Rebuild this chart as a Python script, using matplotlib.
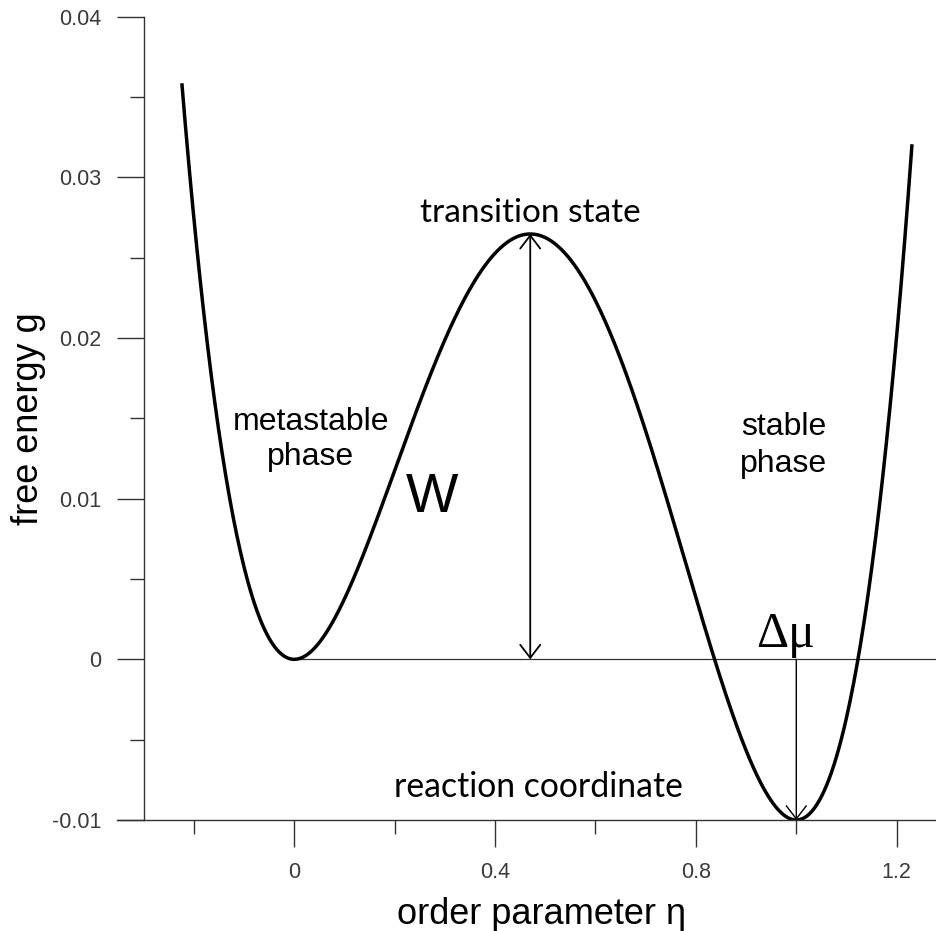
import numpy as np
import matplotlib
matplotlib.use("Agg")
import matplotlib.pyplot as plt
from matplotlib.ticker import FixedLocator

# Landau-type free energy of a first-order transition:
# g(eta) = a * eta^2 (1 - eta)^2 - dmu * (3 eta^2 - 2 eta^3)
barrier_coeff = 0.5        # a
delta_mu = 0.01            # driving force (depth of the stable well)
eta_start, eta_end = -0.224, 1.2305

x_major = [0, 0.4, 0.8, 1.2]
x_major_labels = ["0", "0.4", "0.8", "1.2"]
x_minor = [-0.2, 0.2, 0.6, 1.0]
y_major = [-0.01, 0.0, 0.01, 0.02, 0.03, 0.04]
y_major_labels = ["-0.01", "0", "0.01", "0.02", "0.03", "0.04"]
y_minor = [-0.005, 0.005, 0.015, 0.025, 0.035]


def free_energy(eta):
    return barrier_coeff * eta**2 * (1 - eta)**2 - delta_mu * (3 * eta**2 - 2 * eta**3)


eta = np.linspace(eta_start, eta_end, 600)
g = free_energy(eta)
eta_ts = 0.5 - 1.5 * delta_mu / barrier_coeff   # transition state
g_ts = free_energy(eta_ts)

W, H = 937, 931
fig = plt.figure(figsize=(W / 100, H / 100), dpi=100)
ax = fig.add_axes([117 / W, 111 / H, 820 / W, (914.3 - 111) / H])
ax.set_xlim(-0.3532, 1.2803)
ax.set_ylim(-0.01, 0.04)

axis_col = "#333333"
for side in ("top", "right"):
    ax.spines[side].set_visible(False)
ax.spines["left"].set_position(("data", -0.3))
for side in ("left", "bottom"):
    ax.spines[side].set_color(axis_col)
    ax.spines[side].set_linewidth(1.0)

ax.xaxis.set_major_locator(FixedLocator(x_major))
ax.xaxis.set_minor_locator(FixedLocator(x_minor))
ax.yaxis.set_major_locator(FixedLocator(y_major))
ax.yaxis.set_minor_locator(FixedLocator(y_minor))
ax.set_xticklabels(x_major_labels)
ax.set_yticklabels(y_major_labels)

ax.tick_params(axis="both", which="major", direction="out", length=19.4,
               width=1.0, color=axis_col, labelcolor="#3a3a3a")
ax.tick_params(axis="both", which="minor", direction="out", length=10,
               width=1.0, color=axis_col)
ax.tick_params(axis="x", which="major", pad=10.6)
ax.tick_params(axis="y", which="major", pad=11)
for lab in ax.get_xticklabels() + ax.get_yticklabels():
    lab.set_fontfamily("Liberation Sans")
    lab.set_fontsize(15.5)

# zero reference level of the metastable phase
ax.plot([0, 1.2803], [0, 0], color=axis_col, lw=0.9, clip_on=False)

# free energy curve
ax.plot(eta, g, color="black", lw=2.5, solid_capstyle="butt")

# barrier height W
ax.annotate("", xy=(eta_ts, g_ts), xytext=(eta_ts, 0),
            arrowprops=dict(arrowstyle="<->,head_length=0.47,head_width=0.36",
                            mutation_scale=20, lw=1.3, color="black",
                            shrinkA=0, shrinkB=0))
# driving force
ax.annotate("", xy=(1.0, free_energy(1.0)), xytext=(1.0, 0),
            arrowprops=dict(arrowstyle="->,head_length=0.47,head_width=0.36",
                            mutation_scale=20, lw=1.0, color="black",
                            shrinkA=0, shrinkB=0))

sans = "Liberation Sans"
ax.text(0.033, 0.01429, "metastable", family=sans, size=23, ha="center", va="baseline")
ax.text(0.033, 0.01211, "phase", family=sans, size=23, ha="center", va="baseline")
ax.text(0.9755, 0.01398, "stable", family=sans, size=23, ha="center", va="baseline")
ax.text(0.9755, 0.01168, "phase", family=sans, size=23, ha="center", va="baseline")
ax.text(0.274, 0.00919, "W", family=sans, size=40, ha="center", va="baseline")
ax.text(0.919, 0.000745, "Δμ", family="Liberation Serif", size=36, ha="left", va="baseline")
ax.text(0.4695, 0.0272, "transition state", family="Lato", size=24, ha="center", va="baseline")
ax.text(0.4855, -0.00857, "reaction coordinate", family="Lato", size=24.3, ha="center", va="baseline")

fig.text(542 / W, (H - 924) / H, "order parameter η", family=sans, size=26,
         ha="center", va="baseline")
fig.text(29 / W, (H - 419) / H, "free energy g", family=sans, size=26,
         ha="center", va="center", rotation=90)

fig.savefig("out.png", dpi=100)
